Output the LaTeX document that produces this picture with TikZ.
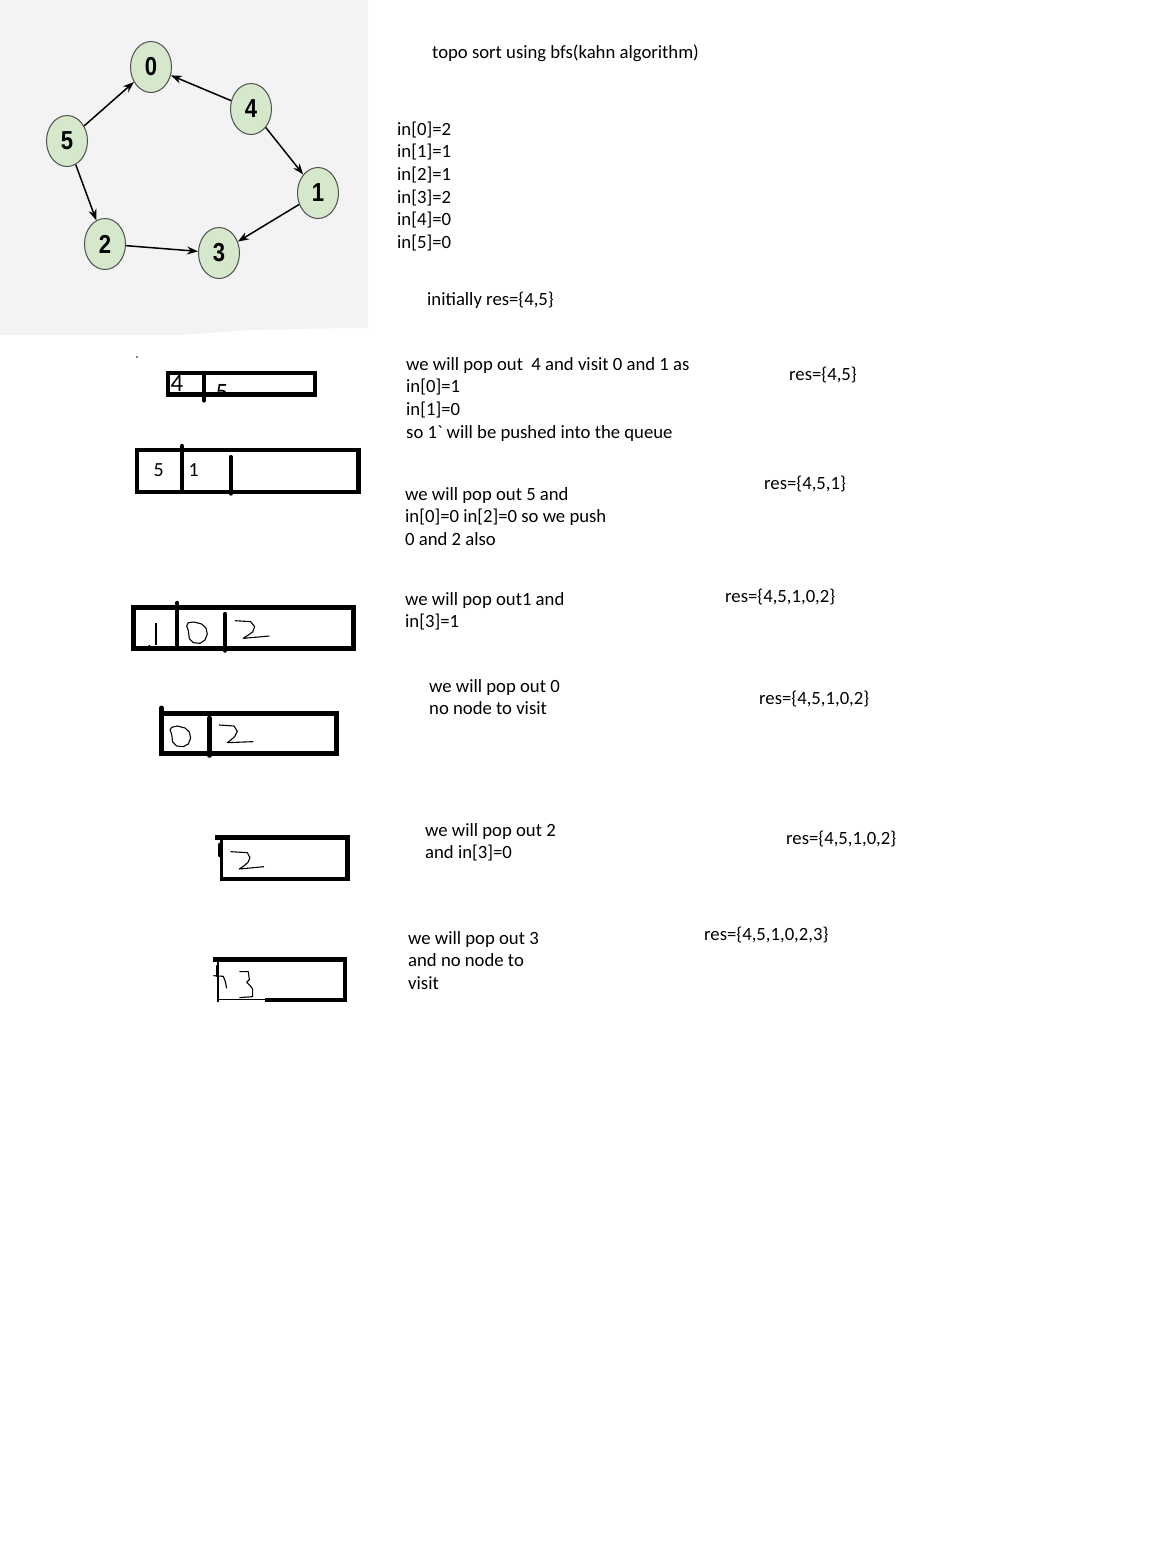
\documentclass[tikz,border=0pt]{standalone}
\usepackage{fontspec}
\newfontfamily\calib{Carlito}
\newfontfamily\nodefont[FakeStretch=0.85]{Liberation Sans}
\usetikzlibrary{shapes.geometric,arrows.meta}
\definecolor{bggray}{HTML}{F3F3F3}
\definecolor{nodegreen}{HTML}{D5E8CC}
\definecolor{nodeborder}{HTML}{505050}
\begin{document}
\begin{tikzpicture}[x=1pt,y=-1pt]
\tikzset{
  gnode/.style={ellipse, draw=nodeborder, line width=1pt, fill=nodegreen,
    minimum width=41pt, minimum height=51pt, inner sep=0pt,
    font=\nodefont\bfseries\fontsize{26}{26}\selectfont},
  garrow/.style={line width=1.5pt, -{Stealth[length=11pt,width=8pt]}},
  txt/.style={anchor=base west, inner sep=0pt, font=\calib\fontsize{18.7}{22.7}\selectfont},
  boxtxt/.style={anchor=base west, inner sep=0pt, font=\calib\fontsize{20}{20}\selectfont},
  qbox/.style={line width=4.3pt},
  qdiv/.style={line width=4.3pt, line cap=round},
  hand/.style={line width=1.1pt, line join=round},
}
\useasboundingbox (0,0) rectangle (1165,1556);
\fill[white] (0,0) rectangle (1165,1556);
% gray background of graph picture
\fill[bggray] (0,0) -- (368,0) -- (368,328) -- (350,328) -- (250,330) -- (180,335) -- (0,335) -- cycle;

% graph
\node[gnode] (n0) at (151,67) {0};
\node[gnode] (n4) at (251,109) {4};
\node[gnode] (n5) at (67,141) {5};
\node[gnode] (n1) at (318,193) {1};
\node[gnode] (n2) at (105,244) {2};
\node[gnode] (n3) at (219,253) {3};
\draw[garrow] (n5) -- (n0);
\draw[garrow] (n4) -- (n0);
\draw[garrow] (n4) -- (n1);
\draw[garrow] (n5) -- (n2);
\draw[garrow] (n2) -- (n3);
\draw[garrow] (n1) -- (n3);

% texts
\node[txt] (title) at (432,58) {topo sort using bfs(kahn algorithm)};
\node[txt] (in0) at (397,135.0) {in[0]=2};
\node[txt] (in1) at (397,157.7) {in[1]=1};
\node[txt] (in2) at (397,180.4) {in[2]=1};
\node[txt] (in3) at (397,203.1) {in[3]=2};
\node[txt] (in4) at (397,225.8) {in[4]=0};
\node[txt] (in5) at (397,248.5) {in[5]=0};
\node[txt] (init) at (427,305) {initially res=\{4,5\}};

\node[txt] (s1a) at (406,370) {we will pop out\ \ 4 and visit 0 and 1 as};
\node[txt] (s1b) at (406,392.7) {in[0]=1};
\node[txt] (s1c) at (406,415.4) {in[1]=0};
\node[txt] (s1d) at (406,438.1) {so 1\symbol{96} will be pushed into the queue};
\node[txt] (r1) at (789,380) {res=\{4,5\}};

\node[txt] (s2a) at (405,500) {we will pop out 5 and};
\node[txt] (s2b) at (405,522.7) {in[0]=0 in[2]=0 so we push};
\node[txt] (s2c) at (405,545.4) {0 and 2 also};
\node[txt] (r2) at (764,489) {res=\{4,5,1\}};

\node[txt] (s3a) at (405,605) {we will pop out1 and};
\node[txt] (s3b) at (405,627.7) {in[3]=1};
\node[txt] (r3) at (725,602) {res=\{4,5,1,0,2\}};

\node[txt] (s4a) at (429,692) {we will pop out 0};
\node[txt] (s4b) at (429,714.7) {no node to visit};
\node[txt] (r4) at (759,704) {res=\{4,5,1,0,2\}};

\node[txt] (s5a) at (425,836) {we will pop out 2};
\node[txt] (s5b) at (425,858.7) {and in[3]=0};
\node[txt] (r5) at (786,844) {res=\{4,5,1,0,2\}};

\node[txt] (s6a) at (408,944) {we will pop out 3};
\node[txt] (s6b) at (408,966.7) {and no node to};
\node[txt] (s6c) at (408,989.4) {visit};
\node[txt] (r6) at (704,940) {res=\{4,5,1,0,2,3\}};

% queue box 1
\node[boxtxt, font=\calib\fontsize{25}{25}\selectfont] (q1a) at (170.5,391.7) {4};
\begin{scope}
  \clip (169.8,375.2) rectangle (312.9,392.6);
  \node[boxtxt, font=\calib\fontsize{25}{25}\selectfont] (q1b) at (215.5,400) {5};
\end{scope}
\draw[qbox] (167.8,373.1) rectangle (314.9,394.6);
\draw[qdiv] (204,373) -- (204,400.5);

% queue box 2
\node[boxtxt] (q2a) at (153.5,476.5) {5};
\node[boxtxt] (q2b) at (188.5,476.5) {1};
\draw[qbox] (137.2,450.2) rectangle (358.5,491.8);
\draw[qdiv] (182,446) -- (182,490);
\draw[qdiv] (230.7,457) -- (230.7,493.5);

% queue box 3 (hand drawn digits)
\draw[line width=5pt] (133.2,607.5) rectangle (353.5,648.2);
\draw[line width=4.5pt, line cap=round] (177,603) -- (177,646);
\draw[line width=4.5pt, line cap=round] (225,614) -- (225,650.5);
\begin{scope}[shift={(120,590)}, x=0.3333pt, y=-0.3333pt]
  \draw[hand] (108,100) -- (108,165);
  \draw[hand] (80,172) -- (90,166);
  \draw[hand] (205,98) -- (222,96) -- (245,102) -- (258,114) -- (262,132) -- (255,150) -- (240,160) -- (220,158) -- (208,146) -- (205,122) -- (200,108) -- cycle;
  \draw[hand] (345,92) -- (392,95) -- (404,110) -- (398,126) -- (382,137) -- (370,145) -- (448,138);
\end{scope}

% queue box 4
\draw[line width=5pt] (161.5,713.2) rectangle (336.8,753.2);
\draw[line width=5pt, line cap=round] (161.5,708) -- (161.5,716);
\draw[line width=4.5pt, line cap=round] (209.5,718) -- (209.5,755.5);
\begin{scope}[shift={(120,590)}, x=0.3333pt, y=-0.3333pt]
  \draw[hand] (155,412) -- (172,408) -- (195,414) -- (208,426) -- (212,444) -- (205,462) -- (190,470) -- (170,468) -- (158,456) -- (155,432) -- (150,420) -- cycle;
  \draw[hand] (297,405) -- (342,408) -- (352,424) -- (344,440) -- (330,452) -- (322,458) -- (400,455);
\end{scope}

% queue box 5
\draw[line width=5pt] (215,837.5) -- (347.5,837.5) -- (347.5,878.8);
\draw[line width=4.5pt] (220,878.8) -- (350,878.8);
\draw[line width=3pt] (221.7,835) -- (221.7,881);
\draw[line width=5pt, line cap=round] (220,845) -- (220,855);
\begin{scope}[shift={(200,825)}, x=0.3333pt, y=-0.3333pt]
  \draw[hand] (92,80) -- (142,83) -- (150,98) -- (144,112) -- (130,124) -- (118,132) -- (192,125);
\end{scope}

% queue box 6
\draw[line width=4.4pt] (213.3,959.5) -- (344.7,959.5) -- (344.7,999.7);
\draw[line width=4pt] (265,999.7) -- (346.7,999.7);
\draw[line width=1.5pt] (218,999.7) -- (265,999.7);
\draw[line width=2pt] (218.3,957.5) -- (218.3,1002);
\draw[line width=3.5pt, line cap=round] (217.5,966) -- (217.5,976);
\begin{scope}[shift={(200,825)}, x=0.3333pt, y=-0.3333pt]
  \draw[hand] (40,452) -- (70,454) -- (76,470) -- (80,490);
  \draw[hand] (118,440) -- (145,440) -- (148,464) -- (140,472) -- (150,482) -- (158,492) -- (158,515) -- (118,518);
\end{scope}

% small stray marks below graph
\fill (137,357) circle (0.8);
\end{tikzpicture}
\end{document}
